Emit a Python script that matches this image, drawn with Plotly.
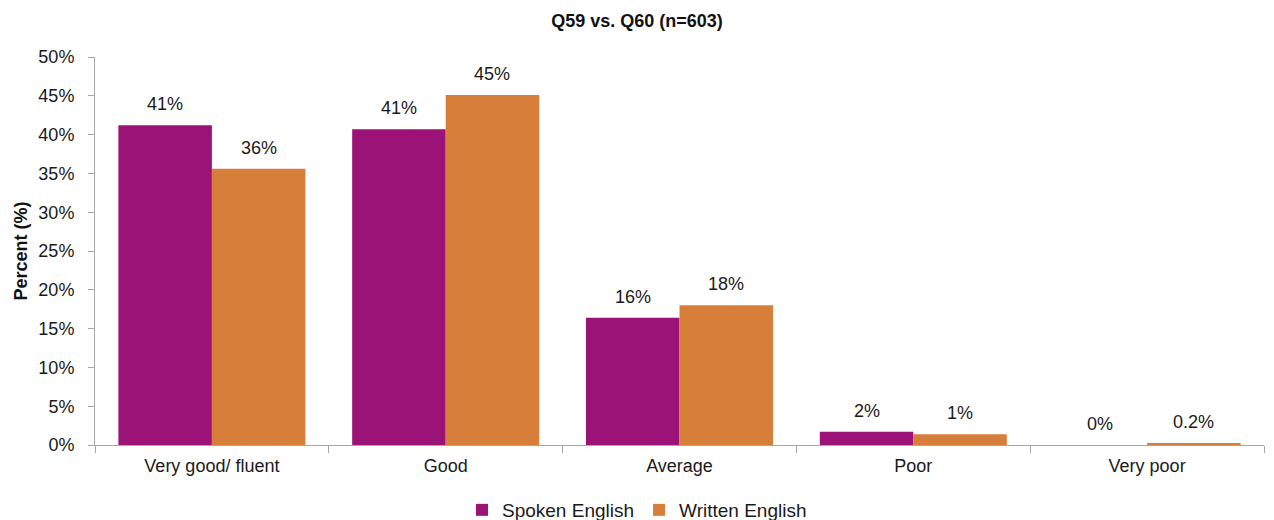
import plotly.graph_objects as go

categories = ["Very good/ fluent", "Good", "Average", "Poor", "Very poor"]
spoken = [41.2, 40.7, 16.4, 1.7, 0.0]
written = [35.6, 45.1, 18.0, 1.4, 0.2]
spoken_labels = ["41%", "41%", "16%", "2%", "0%"]
written_labels = ["36%", "45%", "18%", "1%", "0.2%"]
y_ticks = [0, 5, 10, 15, 20, 25, 30, 35, 40, 45, 50]
y_tick_labels = [f"{t}%" for t in y_ticks]

FONT = "Liberation Sans, Arial, sans-serif"
PURPLE = "#9C1378"
ORANGE = "#D77E3B"
AXIS = "#A6A6A6"
TXT = "#1a1a1a"

BARGAP = 0.2
PLOT_W = 1274 - 95 - 10
half_bar_px = PLOT_W / len(categories) * (1 - BARGAP) / 4

fig = go.Figure()
fig.add_trace(go.Bar(name="Spoken English", x=categories, y=spoken,
                     marker=dict(color=PURPLE, line=dict(width=0))))
fig.add_trace(go.Bar(name="Written English", x=categories, y=written,
                     marker=dict(color=ORANGE, line=dict(width=0))))

annotations = []
for cat, v, lab in zip(categories, spoken, spoken_labels):
    annotations.append(dict(x=cat, y=v, xref="x", yref="y", text=lab, showarrow=False,
                            xshift=-half_bar_px, yanchor="bottom", yshift=9,
                            font=dict(size=18, color=TXT, family=FONT)))
for cat, v, lab in zip(categories, written, written_labels):
    annotations.append(dict(x=cat, y=v, xref="x", yref="y", text=lab, showarrow=False,
                            xshift=half_bar_px, yanchor="bottom", yshift=9,
                            font=dict(size=18, color=TXT, family=FONT)))

fig.update_layout(
    width=1274, height=520,
    margin=dict(l=95, r=10, t=57, b=75, autoexpand=False),
    paper_bgcolor="white", plot_bgcolor="white",
    barmode="group", bargap=BARGAP, bargroupgap=0,
    font=dict(family=FONT, size=18, color=TXT),
    title=dict(text="<b>Q59 vs. Q60 (n=603)</b>", x=0.5, xanchor="center", xref="container",
               y=0.96, yanchor="middle", font=dict(size=18, color="#111111")),
    showlegend=True,
    legend=dict(orientation="h", x=0.5, xanchor="center", xref="container",
                y=(520 - 510) / 520, yref="container", yanchor="middle",
                font=dict(size=19, color=TXT), traceorder="normal",
                itemwidth=30, tracegroupgap=0),
    annotations=annotations,
)
fig.update_xaxes(
    showline=True, linecolor=AXIS, linewidth=1,
    ticks="outside", tickson="boundaries", ticklen=7, tickcolor=AXIS,
    tickfont=dict(size=18, color=TXT), showgrid=False, ticklabelstandoff=4,
)
fig.update_yaxes(
    range=[0, 50], tickvals=y_ticks, ticktext=y_tick_labels,
    showline=True, linecolor=AXIS, linewidth=1,
    ticks="outside", ticklen=6, tickcolor=AXIS,
    tickfont=dict(size=18, color=TXT), showgrid=False, zeroline=False,
    ticklabelstandoff=10,
    title=dict(text="<b>Percent (%)</b>", font=dict(size=18, color="#111111"), standoff=6),
)

fig.write_html("out.html")
